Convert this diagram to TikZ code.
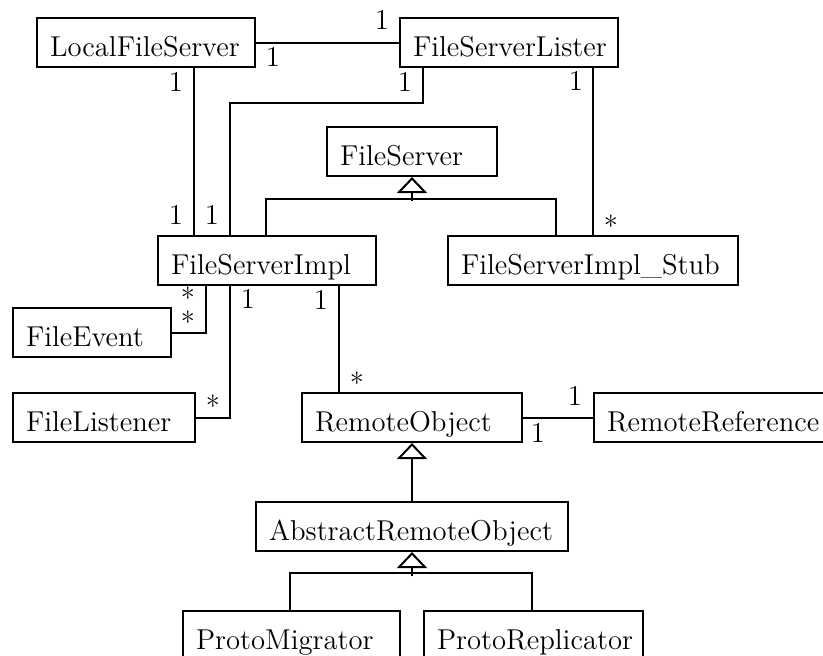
\documentclass[tikz,border=0pt]{standalone}
\usepackage{fontspec}
\usetikzlibrary{arrows.meta,calc}
\tikzset{
  cls/.style={draw, line width=1pt, anchor=north west, inner xsep=6.5pt, inner ysep=0pt,
    text width=#1*0.5pt-13pt, align=left, minimum height=24.5pt,
    text height=13.5pt, text depth=0pt},
  lbl/.style={anchor=base, inner sep=0pt},
  conn/.style={line width=1pt},
  inh/.style={line width=1pt, -{Triangle[open, length=8pt, width=15pt]}},
  every node/.style={font=\fontsize{14.35pt}{17pt}\selectfont}
}
\begin{document}
\begin{tikzpicture}[x=0.5pt, y=-0.5pt]
\useasboundingbox (0,0) rectangle (823,655);
\clip (0,0) rectangle (823,655);
% classes
\node[cls=218] (lfs) at (36,17) {LocalFileServer};
\node[cls=218] (fsl) at (399,17) {FileServerLister};
\node[cls=170] (fs) at (326,126) {FileServer};
\node[cls=218] (fsi) at (157,235) {FileServerImpl};
\node[cls=290] (stub) at (447,235) {FileServerImpl\_Stub};
\node[cls=158] (fev) at (12,307) {FileEvent};
\node[cls=182] (fli) at (12,392) {FileListener};
\node[cls=220] (ro) at (301,392) {RemoteObject};
\node[cls=250] (rr) at (593,392) {RemoteReference};
\node[cls=312] (aro) at (255,501) {AbstractRemoteObject};
\node[cls=217] (pm) at (182,610) {ProtoMigrator};
\node[cls=219] (pr) at (423,610) {ProtoReplicator};
% associations
\draw[conn] (lfs.east) -- (fsl.west);
\draw[conn] ($(lfs.south west)+(158,0)$) -- ($(fsi.north west)+(37,0)$);
\draw[conn] ($(fsl.south west)+(24,0)$) -- ++(0,35) -| ($(fsi.north west)+(73,0)$);
\draw[conn] ($(fsl.south west)+(194,0)$) -- ($(stub.north west)+(146,0)$);
\draw[conn] ($(fsi.south west)+(49,0)$) |- (fev.east);
\draw[conn] ($(fsi.south west)+(73,0)$) |- (fli.east);
\draw[conn] ($(fsi.south west)+(182,0)$) -- ($(ro.north west)+(38,0)$);
\draw[conn] (ro.east) -- (rr.west);
% generalizations
\draw[conn] ($(fsi.north west)+(109,0)$) |- ($(stub.north west)+(109,-36)$) -- ($(stub.north west)+(109,0)$);
\draw[inh] ($(fs.south)+(0,24)$) -- (fs.south);
\draw[inh] (aro.north) -- (ro.south);
\draw[conn] ($(pm.north west)+(108,0)$) |- ($(pr.north west)+(109,-37)$) -- ($(pr.north west)+(109,0)$);
\draw[inh] ($(aro.south)+(0,24)$) -- (aro.south);
% multiplicities
\node[lbl] (m1) at (382,29) {1};
\node[lbl] (m2) at (273,66) {1};
\node[lbl] (m3) at (176,91) {1};
\node[lbl] (m4) at (176,224) {1};
\node[lbl] (m5) at (405,91) {1};
\node[lbl] (m6) at (212,224) {1};
\node[lbl] (m7) at (576,90) {1};
\node[lbl] (m8) at (611,236) {*};
\node[lbl] (m9) at (188,308) {*};
\node[lbl] (m10) at (188,332) {*};
\node[lbl] (m11) at (248,308) {1};
\node[lbl] (m12) at (213,416) {*};
\node[lbl] (m13) at (321,309) {1};
\node[lbl] (m14) at (357,393) {*};
\node[lbl] (m15) at (575,405) {1};
\node[lbl] (m16) at (538,442) {1};
\end{tikzpicture}
\end{document}
